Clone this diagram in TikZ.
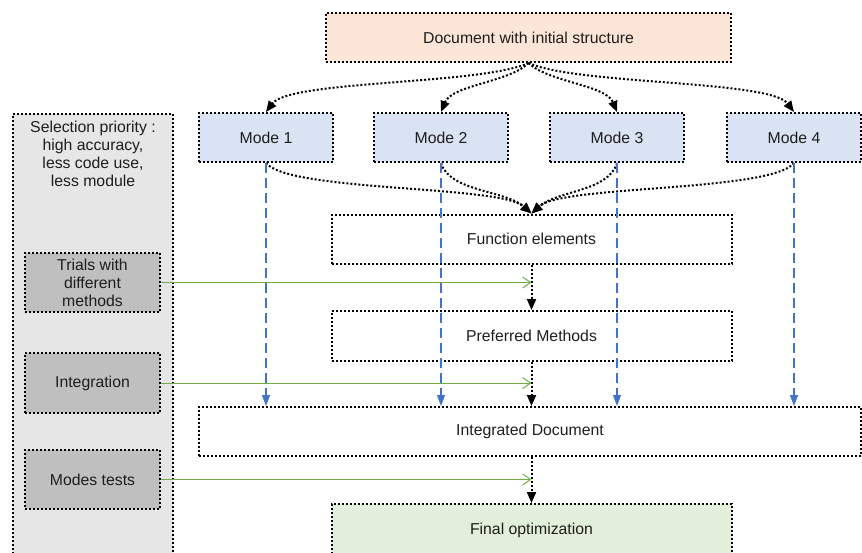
\documentclass[tikz,border=0pt]{standalone}
\usepackage{fontspec}
\setmainfont{Liberation Sans}
\usetikzlibrary{arrows.meta}

\definecolor{peach}{HTML}{FBE5D6}
\definecolor{modeblue}{HTML}{DAE3F3}
\definecolor{panelgray}{HTML}{E7E6E6}
\definecolor{boxgray}{HTML}{BFBFBF}
\definecolor{finalgreen}{HTML}{E2EFDA}
\definecolor{linkblue}{HTML}{4472C4}
\definecolor{linkgreen}{HTML}{70AD47}
\definecolor{ink}{HTML}{1E1E1E}

\begin{document}
\begin{tikzpicture}[x=1pt, y=-1pt,
  font=\fontsize{15.8}{18}\selectfont,
  dotframe/.style={draw=black, line width=2pt, dash pattern=on 2pt off 2pt},
  box/.style={dotframe, inner sep=0pt, align=center, text=ink},
  modebox/.style={box, fill=modeblue, minimum width=134pt, minimum height=49pt},
  sidebox/.style={box, fill=boxgray, minimum width=135pt, minimum height=59pt},
  stagebox/.style={box, minimum width=400pt, minimum height=49pt},
  flow/.style={dotframe, -{Triangle[length=11pt,width=9pt]}},
  bluelink/.style={draw=linkblue, line width=1.1pt, dash pattern=on 10pt off 5pt,
    -{Triangle[length=11pt,width=8pt]}},
  greenlink/.style={draw=linkgreen, line width=1pt,
    -{Straight Barb[length=8pt,width=11pt]}}
]
\useasboundingbox (0,0) rectangle (862,552);
\clip (0,0) rectangle (862,552);

% side panel with the selection criteria
\node[box, fill=panelgray, minimum width=160pt, minimum height=446pt, anchor=north]
  (panel) at (93,112.5) {};
\node[anchor=north, inner sep=0pt, align=center, text=ink] (prio) at (93,121)
  {Selection priority :\\high accuracy,\\less code use,\\less module};
\node[sidebox] (trials) at (92.5,282.5) {Trials with\\different\\methods};
\node[sidebox, minimum height=60pt] (integ) at (92.5,383) {Integration};
\node[sidebox] (tests) at (92.5,479.5) {Modes tests};

% main flow
\node[box, fill=peach, minimum width=405pt, minimum height=49pt] (doc) at (528.5,37.5)
  {Document with initial structure};
\node[modebox] (m1) at (266,137.5) {Mode 1};
\node[modebox] (m2) at (441,137.5) {Mode 2};
\node[modebox] (m3) at (617,137.5) {Mode 3};
\node[modebox] (m4) at (794,137.5) {Mode 4};

\node[stagebox] (func) at (531.5,239) {Function elements};
\node[stagebox, minimum height=50pt] (pref) at (531.5,336) {Preferred Methods};
\node[box, minimum width=662pt, minimum height=49pt] (intdoc) at (530,431.5)
  {Integrated Document};
\node[stagebox, fill=finalgreen, minimum height=52pt] (final) at (531.5,530)
  {Final optimization};

% document split into the four modes
\draw[flow] (doc.south) .. controls (480,85) and (290,80) .. (m1.north);
\draw[flow] (doc.south) .. controls (510,82) and (452,85) .. (m2.north);
\draw[flow] (doc.south) .. controls (548,82) and (606,85) .. (m3.north);
\draw[flow] (doc.south) .. controls (578,85) and (770,80) .. (m4.north);

% modes gathered into the function elements
\draw[flow] (m1.south) .. controls (290,192) and (500,185) .. (func.north);
\draw[flow] (m2.south) .. controls (450,192) and (505,190) .. (func.north);
\draw[flow] (m3.south) .. controls (608,192) and (558,190) .. (func.north);
\draw[flow] (m4.south) .. controls (770,192) and (562,185) .. (func.north);

% vertical chain
\draw[flow] (func.south) -- (pref.north);
\draw[flow] (pref.south) -- (pref.south |- intdoc.north);
\draw[flow] (pref.south |- intdoc.south) -- (final.north);

% each mode feeds the integrated document
\foreach \m in {m1,m2,m3,m4}
  \draw[bluelink] (\m.south) -- (\m.south |- intdoc.north);

% side activities acting on the chain
\draw[greenlink] (trials.east) -- (trials.east -| func.south);
\draw[greenlink] (integ.east) -- (integ.east -| func.south);
\draw[greenlink] (tests.east) -- (tests.east -| func.south);
\end{tikzpicture}
\end{document}
